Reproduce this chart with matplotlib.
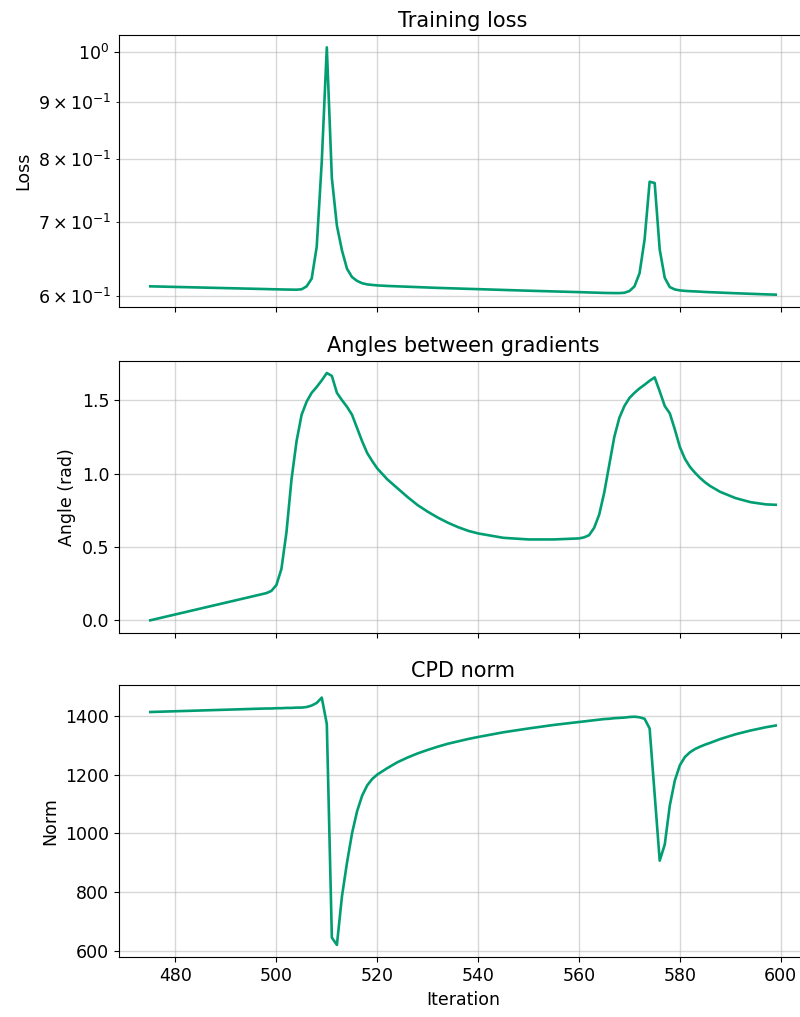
import matplotlib
matplotlib.use("Agg")
import matplotlib.pyplot as plt
from matplotlib.ticker import MultipleLocator

# iterations at which the metrics were logged
iterations = [475,
              498, 499, 500, 501, 502, 503, 504, 505, 506, 507, 508, 509,
              510, 511, 512, 513, 514, 515, 516, 517, 518, 519, 520,
              522, 524, 526, 528, 530, 532, 534, 536, 538, 540,
              545, 550, 555, 560,
              561, 562, 563, 564, 565, 566, 567, 568, 569, 570, 571,
              572, 573, 574, 575, 576, 577, 578, 579, 580, 581, 582,
              583, 584, 585, 586, 588, 591, 594, 597, 599]

loss = [0.612,
        0.6085, 0.6083, 0.6082, 0.6080, 0.6079, 0.6078, 0.6077, 0.6082, 0.612, 0.622, 0.665, 0.795,
        1.01, 0.768, 0.695, 0.660, 0.635, 0.624, 0.619, 0.616, 0.6145, 0.6138, 0.6132,
        0.6125, 0.612, 0.6115, 0.611, 0.6105, 0.610, 0.6096, 0.6092, 0.6088, 0.6084,
        0.6074, 0.6064, 0.6055, 0.6046,
        0.6044, 0.6042, 0.6040, 0.6038, 0.6036, 0.6035, 0.6034, 0.6034, 0.6038, 0.606, 0.612,
        0.629, 0.675, 0.762, 0.760, 0.661, 0.623, 0.611, 0.608, 0.6068, 0.6062, 0.6058,
        0.6055, 0.6052, 0.6048, 0.6045, 0.604, 0.6032, 0.6025, 0.6018, 0.6014]

angles = [0.0,
          0.185, 0.20, 0.24, 0.35, 0.60, 0.96, 1.22, 1.40, 1.49, 1.55, 1.59, 1.635,
          1.685, 1.665, 1.55, 1.50, 1.455, 1.40, 1.31, 1.22, 1.14, 1.085, 1.035,
          0.96, 0.90, 0.84, 0.785, 0.74, 0.70, 0.665, 0.635, 0.61, 0.592,
          0.562, 0.551, 0.551, 0.558,
          0.565, 0.58, 0.63, 0.72, 0.87, 1.06, 1.25, 1.38, 1.46, 1.515, 1.55,
          1.58, 1.605, 1.632, 1.655, 1.56, 1.46, 1.41, 1.30, 1.18, 1.10, 1.045,
          1.005, 0.97, 0.94, 0.915, 0.875, 0.833, 0.805, 0.79, 0.787]

cpd_norm = [1413,
            1425, 1425, 1426, 1426, 1427, 1427, 1428, 1428, 1430, 1435, 1444, 1462,
            1372, 645, 620, 785, 900, 1000, 1075, 1128, 1163, 1185, 1200,
            1222, 1242, 1258, 1272, 1284, 1295, 1305, 1313, 1321, 1328,
            1344, 1357, 1369, 1379,
            1381, 1383, 1385, 1387, 1389, 1390, 1392, 1393, 1394, 1396, 1397,
            1395, 1390, 1357, 1132, 907, 962, 1095, 1180, 1232, 1260, 1276,
            1287, 1295, 1302, 1308, 1321, 1337, 1350, 1361, 1367]

colore = '#029e73'
plt.rcParams['font.size'] = 12.5

fig = plt.figure(figsize=(8, 10.17), dpi=100)
left, width, height = 0.14875, 0.86, 0.2675
ax1 = fig.add_axes([left, 0.6981, width, height])
ax2 = fig.add_axes([left, 0.3779, width, height], sharex=ax1)
ax3 = fig.add_axes([left, 0.0587, width, height], sharex=ax1)

ax1.plot(iterations, loss, color=colore, lw=1.9)
ax1.set_yscale('log')
ax1.set_title('Training loss', fontsize=15)
ax1.set_ylabel('Loss')

ax2.plot(iterations, angles, color=colore, lw=1.9)
ax2.yaxis.set_major_locator(MultipleLocator(0.5))
ax2.set_title('Angles between gradients', fontsize=15)
ax2.set_ylabel('Angle (rad)')

ax3.plot(iterations, cpd_norm, color=colore, lw=1.9)
ax3.set_title('CPD norm', fontsize=15)
ax3.set_ylabel('Norm')
ax3.set_xlabel('Iteration')

for ax in (ax1, ax2, ax3):
    ax.grid(True, which='both', color='#b0b0b0', alpha=0.5, lw=1)
for ax in (ax1, ax2):
    ax.tick_params(labelbottom=False)

fig.savefig('out.png', dpi=100)
